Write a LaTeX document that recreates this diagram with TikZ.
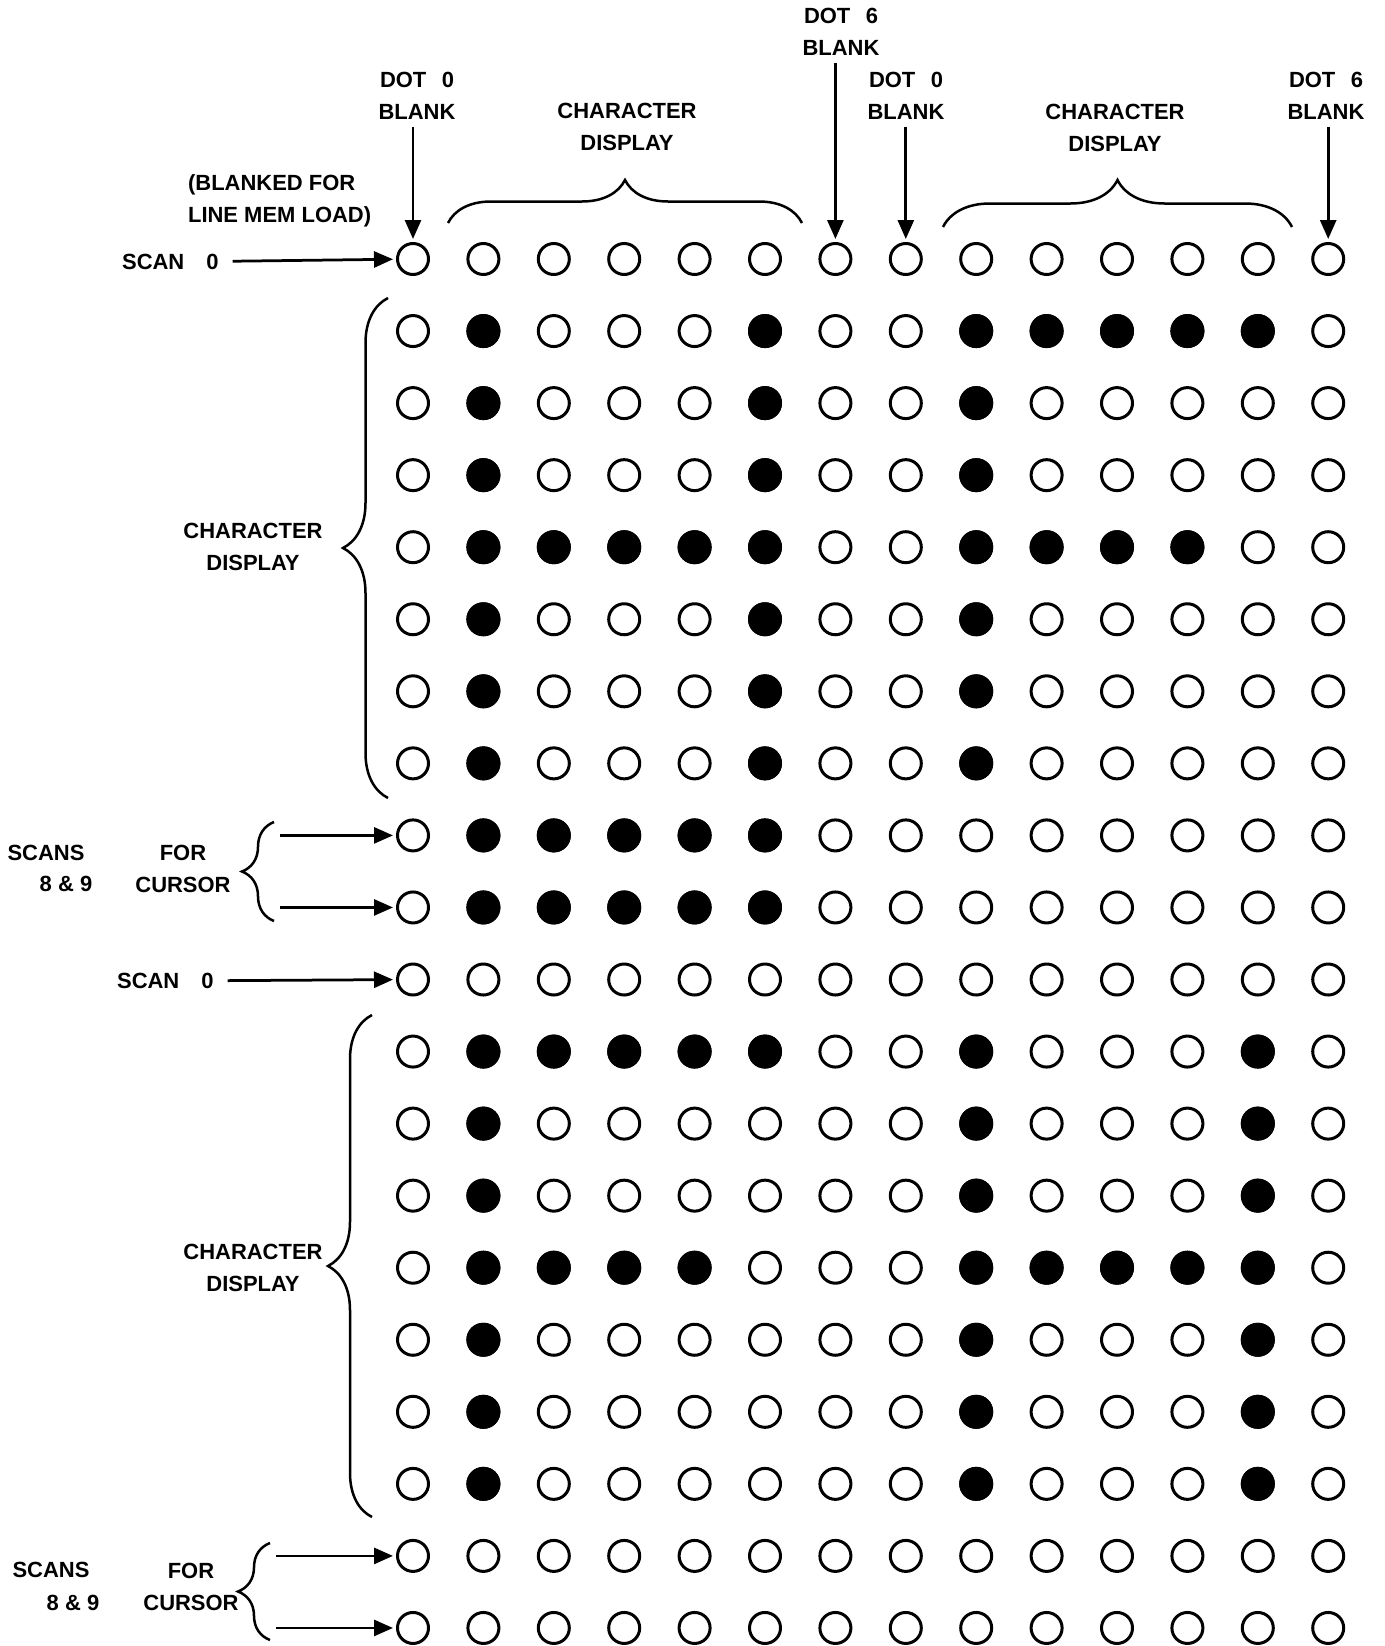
\documentclass[tikz,border=0pt]{standalone}
\usepackage{fontspec}
\setmainfont{Liberation Sans}
\usetikzlibrary{arrows.meta,decorations.pathreplacing}

\tikzset{
  dot/.style={circle, draw, line width=0.6mm, minimum size=6.2mm, inner sep=0pt},
  lbl/.style={font=\bfseries\fontsize{12.5}{18}\selectfont, align=center, inner sep=1pt},
  arr/.style={line width=0.55mm, -{Triangle[length=3.8mm,width=3.2mm]}, shorten >=0.6mm},
  brc/.style={line width=0.5mm, decorate, decoration={brace, amplitude=#1}},
}

\begin{document}
\begin{tikzpicture}[x=0.2mm, y=-0.2mm]
    \useasboundingbox (0,0) rectangle (1385,1646);

    \foreach \r in {0,...,19}
      \foreach \c in {0,...,13}
        \node[dot] (d-\r-\c) at ({413+70.4*\c},{259+72.05*\r}) {};

    \foreach \r/\cols in {1/{1,5,8,9,10,11,12}, 2/{1,5,8}, 3/{1,5,8},
                          4/{1,2,3,4,5,8,9,10,11}, 5/{1,5,8}, 6/{1,5,8}, 7/{1,5,8},
                          8/{1,2,3,4,5}, 9/{1,2,3,4,5},
                          11/{1,2,3,4,5,8,12}, 12/{1,8,12}, 13/{1,8,12},
                          14/{1,2,3,4,8,9,10,11,12}, 15/{1,8,12}, 16/{1,8,12}, 17/{1,8,12}}
      \foreach \c in \cols
        \fill (d-\r-\c) circle[radius=3.4mm];

    \node[lbl] (dotzeroA) at (417, 96) {DOT\hspace{0.7em}0\\BLANK};
    \node[lbl] (charA) at (627, 127) {CHARACTER\\DISPLAY};
    \node[lbl] (dotsixA) at (841, 32) {DOT\hspace{0.7em}6\\BLANK};
    \node[lbl] (dotzeroB) at (906, 96) {DOT\hspace{0.7em}0\\BLANK};
    \node[lbl] (charB) at (1115, 128) {CHARACTER\\DISPLAY};
    \node[lbl] (dotsixB) at (1326, 96) {DOT\hspace{0.7em}6\\BLANK};
    \node[lbl, align=left, anchor=west] (blanked) at (186, 201) {(BLANKED FOR\\LINE MEM LOAD)};

    \node[lbl, anchor=west] (scanA) at (120, 262) {SCAN\hspace{1em}0};
    \node[lbl] (charC) at (253, 547) {CHARACTER\\DISPLAY};
    \node[lbl] (scansA) at (46, 853) {SCANS};
    \node[lbl] (nineA) at (66, 884) {8 \& 9};
    \node[lbl] (forA) at (183, 869) {FOR\\CURSOR};

    \node[lbl, anchor=west] (scanB) at (115, 981) {SCAN\hspace{1em}0};
    \node[lbl] (charD) at (253, 1268) {CHARACTER\\DISPLAY};
    \node[lbl] (scansB) at (51, 1570) {SCANS};
    \node[lbl] (nineB) at (73, 1603) {8 \& 9};
    \node[lbl] (forB) at (191, 1587) {FOR\\CURSOR};

    \draw[arr, shorten <=1mm] (dotzeroA.south -| d-0-0) -- (d-0-0);
    \draw[arr, shorten <=1mm] (dotsixA.south -| d-0-6) -- (d-0-6);
    \draw[arr, shorten <=1mm] (dotzeroB.south -| d-0-7) -- (d-0-7);
    \draw[arr, shorten <=1mm] (dotsixB.south -| d-0-13) -- (d-0-13);
    \draw[arr, shorten <=2.4mm] (scanA) -- (d-0-0);
    \draw[arr, shorten <=2.4mm] (scanB) -- (d-10-0);

    \coordinate (curA) at (280, 869);
    \coordinate (curB) at (276, 1592);
    \draw[arr] (curA |- d-8-0) -- (d-8-0);
    \draw[arr] (curA |- d-9-0) -- (d-9-0);
    \draw[arr] (curB |- d-18-0) -- (d-18-0);
    \draw[arr] (curB |- d-19-0) -- (d-19-0);

    \draw[brc={8.6mm}] (448, 223) -- (802, 223);
    \draw[brc={9.4mm}] (943, 227) -- (1292, 227);
    \draw[brc={9mm}] (388, 798) -- (388, 298);
    \draw[brc={6.4mm}] (274, 921) -- (274, 822);
    \draw[brc={8.8mm}] (372, 1517) -- (372, 1015);
    \draw[brc={6.4mm}] (270, 1640) -- (270, 1543);
  \end{tikzpicture}
\end{document}
